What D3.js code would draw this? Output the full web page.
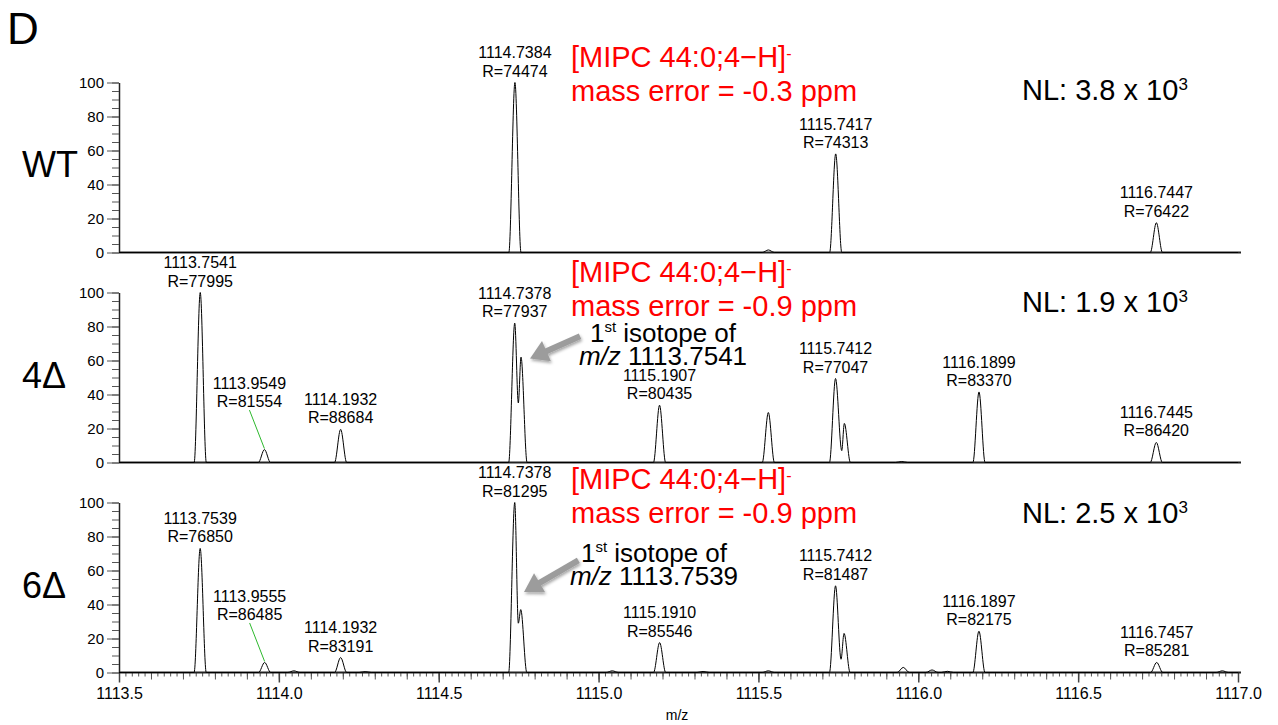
<!DOCTYPE html>
<html>
<head>
<meta charset="utf-8">
<script src="https://cdn.jsdelivr.net/npm/d3@7"></script>
<style>
  body { margin: 0; background: #fff; }
  svg { display: block; font-family: "Liberation Sans", Arial, Helvetica, sans-serif; }
</style>
</head>
<body>
<div class="chartArea"></div>
<script>
// axis ticks
const mzTicks = [1113.5, 1114.0, 1114.5, 1115.0, 1115.5, 1116.0, 1116.5, 1117.0];
const yTicks = [0, 20, 40, 60, 80, 100];

// one row per sample
const sampleNames = ["WT", "4Δ", "6Δ"];
const nlValues = ["3.8", "1.9", "2.5"];
const massErrors = ["-0.3", "-0.9", "-0.9"];
const isotopeOf = [null, "1113.7541", "1113.7539"];

// peak apex: [m/z, relative abundance %]
const peaksWT = [[1114.7384, 100], [1115.531, 1.5], [1115.7417, 58], [1116.7447, 17.5]];
const peaks4 = [
  [1113.7541, 100], [1113.9549, 7.6], [1114.1932, 19.5],
  [1114.7378, 82], [1114.7574, 62], [1115.1907, 33.7], [1115.531, 29.4],
  [1115.7412, 49.4], [1115.7687, 23], [1115.948, 0.6], [1116.1899, 41.5], [1116.7445, 11.8]
];
const peaks6 = [
  [1113.7539, 73], [1113.9555, 5.9], [1114.047, 1], [1114.1932, 8.8], [1114.27, 0.5],
  [1114.7378, 100], [1114.7566, 37], [1115.043, 1], [1115.1910, 17.6], [1115.327, 0.6],
  [1115.531, 1], [1115.7412, 51], [1115.7678, 23], [1115.953, 3], [1116.043, 1.5],
  [1116.091, 0.7], [1116.1897, 24.3], [1116.7457, 5.9], [1116.951, 1]
];

// dips between overlapping peaks
const valleysWT = [];
const valleys4 = [[1114.749, 35], [1115.7606, 7]];
const valleys6 = [[1114.749, 29], [1115.7584, 7.8]];

// peak labels: m/z, resolution
const labelsWT = [["1114.7384", "74474"], ["1115.7417", "74313"], ["1116.7447", "76422"]];
const labels4 = [
  ["1113.7541", "77995"], ["1113.9549", "81554"], ["1114.1932", "88684"], ["1114.7378", "77937"],
  ["1115.1907", "80435"], ["1115.7412", "77047"], ["1116.1899", "83370"], ["1116.7445", "86420"]
];
const labels6 = [
  ["1113.7539", "76850"], ["1113.9555", "86485"], ["1114.1932", "83191"], ["1114.7378", "81295"],
  ["1115.1910", "85546"], ["1115.7412", "81487"], ["1116.1897", "82175"], ["1116.7457", "85281"]
];

const allPeaks = [peaksWT, peaks4, peaks6];
const allValleys = [valleysWT, valleys4, valleys6];
const allLabels = [labelsWT, labels4, labels6];

const width = 1278;
const height = 725;
const panelTop = 82.5;
const panelH = 170;
const panelStep = 210;
const foot = 0.019;

const svg = d3.select(".chartArea")
  .append("svg")
  .attr("width", width)
  .attr("height", height);

const defs = svg.append("defs");
defs.append("filter").attr("id", "shadow")
  .attr("x", "-30%").attr("y", "-30%").attr("width", "160%").attr("height", "160%")
  .append("feDropShadow")
  .attr("dx", 1).attr("dy", 2).attr("stdDeviation", 1.5)
  .attr("flood-color", "#000").attr("flood-opacity", 0.35);

const x = d3.scaleLinear().domain([1113.5, 1117.0]).range([119, 1238]);

svg.append("text")
  .attr("x", 7).attr("y", 44)
  .attr("font-size", 44)
  .text("D");

// build the profile line through feet, apexes and valleys
function profile(peaks, valleys) {
  const pts = peaks.map(p => ({ mz: p[0], v: p[1], valley: false }))
    .concat(valleys.map(p => ({ mz: p[0], v: p[1], valley: true })))
    .sort((a, b) => a.mz - b.mz);
  const out = [[x.domain()[0], 0]];
  pts.forEach((p, i) => {
    if (p.valley) { out.push([p.mz, p.v]); return; }
    const prev = pts[i - 1], next = pts[i + 1];
    if (!prev || !prev.valley) out.push([p.mz - foot, 0]);
    out.push([p.mz, p.v]);
    if (!next || !next.valley) out.push([p.mz + foot, 0]);
  });
  out.push([x.domain()[1], 0]);
  return out;
}

// annotation layout per panel
const redLines = [[67, 101], [282, 316], [489, 523]];
const nlBase = [100, 312, 523];
const noteLayout = [null, { cx: 663, y1: 342, y2: 365 }, { cx: 654, y1: 562, y2: 585 }];
const arrowLayout = [null,
  { tail: [1114.942, 74.3], tip: [1114.7856, 61.2] },
  { tail: [1114.9367, 66], tip: [1114.7668, 47.4] }];

sampleNames.forEach((name, i) => {
  const top = panelTop + i * panelStep;
  const y = d3.scaleLinear().domain([0, 100]).range([top + panelH, top]);
  const g = svg.append("g");

  // sample name
  g.append("text")
    .attr("x", 22).attr("y", [177, 388, 598][i])
    .attr("font-size", 36)
    .text(name);

  // y axis
  const yAxis = d3.axisLeft(y).tickValues(yTicks).tickSize(12).tickPadding(3).tickSizeOuter(0);
  const ya = g.append("g").attr("transform", `translate(${x.range()[0]},0)`).call(yAxis);
  ya.selectAll("text").attr("font-size", 15).attr("fill", "#000").attr("font-family", null);
  ya.selectAll(".tick line").attr("stroke", "#555");
  ya.select(".domain").attr("stroke", "#222").attr("stroke-width", 1.5);
  g.append("g").attr("transform", `translate(${x.range()[0]},0)`)
    .call(d3.axisLeft(y).tickValues(d3.range(0, 101, 5)).tickSize(7).tickFormat(""))
    .call(s => s.select(".domain").remove())
    .selectAll("line").attr("stroke", "#555");

  // bottom axis only on the last panel
  if (i === sampleNames.length - 1) {
    const base = y(0);
    g.append("g").attr("transform", `translate(0,${base})`)
      .call(d3.axisBottom(x).tickValues(d3.range(1113.5, 1117.001, 0.02)).tickSize(4).tickFormat(""))
      .call(s => s.select(".domain").remove())
      .selectAll("line").attr("stroke", "#555");
    g.append("g").attr("transform", `translate(0,${base})`)
      .call(d3.axisBottom(x).tickValues(d3.range(1113.5, 1117.001, 0.1)).tickSize(7).tickFormat(""))
      .call(s => s.select(".domain").remove())
      .selectAll("line").attr("stroke", "#555");
    const xa = g.append("g").attr("transform", `translate(0,${base})`)
      .call(d3.axisBottom(x).tickValues(mzTicks).tickSize(10).tickPadding(5).tickFormat(d3.format(".1f")));
    xa.select(".domain").remove();
    xa.selectAll("text").attr("font-size", 16).attr("fill", "#000").attr("font-family", null);
    xa.selectAll(".tick line").attr("stroke", "#444").attr("stroke-width", 1.5);

    svg.append("text")
      .attr("x", 677).attr("y", 720)
      .attr("text-anchor", "middle")
      .attr("font-size", 14)
      .text("m/z");
  }

  // baseline
  g.append("line")
    .attr("x1", x.range()[0]).attr("x2", x.range()[1] + 3)
    .attr("y1", y(0)).attr("y2", y(0))
    .attr("stroke", "#222").attr("stroke-width", 2);

  // spectrum
  const line = d3.line()
    .x(d => x(d[0]))
    .y(d => y(d[1]))
    .curve(d3.curveMonotoneX);
  g.append("path")
    .datum(profile(allPeaks[i], allValleys[i]))
    .attr("fill", "none")
    .attr("stroke", "#000")
    .attr("stroke-width", 1)
    .attr("d", line);

  // peak labels
  allLabels[i].forEach(([mzText, res]) => {
    const mz = +mzText;
    const pk = allPeaks[i].reduce((a, b) => Math.abs(b[0] - mz) < Math.abs(a[0] - mz) ? b : a);
    const px = x(pk[0]), py = y(pk[1]);
    const leader = Math.abs(mz - 1113.955) < 0.005;
    const lx = leader ? px - 15 : px;
    const ly = leader ? py - 42.5 : py - 6;
    const t = g.append("text")
      .attr("text-anchor", "middle")
      .attr("font-size", 16);
    t.append("tspan").attr("x", lx).attr("y", ly - 18.4).text(mzText);
    t.append("tspan").attr("x", lx).attr("y", ly).text("R=" + res);
    if (leader) {
      g.append("line")
        .attr("x1", lx).attr("y1", ly + 3)
        .attr("x2", px).attr("y2", py - 1)
        .attr("stroke", "#2db82d").attr("stroke-width", 1);
    }
  });

  // identification text
  const red = g.append("text").attr("fill", "#ff0000").attr("font-size", 29);
  red.append("tspan").attr("x", 571).attr("y", redLines[i][0]).text("[MIPC 44:0;4−H]");
  red.append("tspan").attr("font-size", 16).attr("dy", -8).text("-");
  g.append("text").attr("fill", "#ff0000").attr("font-size", 29)
    .attr("x", 571).attr("y", redLines[i][1])
    .text(`mass error = ${massErrors[i]} ppm`);

  // normalisation level
  const nl = g.append("text").attr("font-size", 29).attr("x", 1022).attr("y", nlBase[i]);
  nl.append("tspan").text(`NL: ${nlValues[i]} x 10`);
  nl.append("tspan").attr("font-size", 17).attr("dy", -10).text("3");

  // isotope note with arrow
  if (isotopeOf[i]) {
    const L = noteLayout[i];
    const n1 = g.append("text").attr("text-anchor", "middle").attr("font-size", 26)
      .attr("x", L.cx).attr("y", L.y1);
    n1.append("tspan").text("1");
    n1.append("tspan").attr("font-size", 15).attr("dy", -10).text("st");
    n1.append("tspan").attr("dy", 10).text(" isotope of");
    const n2 = g.append("text").attr("text-anchor", "middle").attr("font-size", 26)
      .attr("x", L.cx).attr("y", L.y2);
    n2.append("tspan").attr("font-style", "italic").text("m/z");
    n2.append("tspan").text(" " + isotopeOf[i]);

    const A = arrowLayout[i];
    const tx = x(A.tail[0]), ty = y(A.tail[1]);
    const hx = x(A.tip[0]), hy = y(A.tip[1]);
    const ang = Math.atan2(hy - ty, hx - tx);
    const headLen = 18, headW = 11;
    const bx = hx - headLen * Math.cos(ang), by = hy - headLen * Math.sin(ang);
    const nx = -Math.sin(ang), ny = Math.cos(ang);
    const ag = g.append("g").attr("filter", "url(#shadow)");
    ag.append("line")
      .attr("x1", tx).attr("y1", ty).attr("x2", bx + 2 * Math.cos(ang)).attr("y2", by + 2 * Math.sin(ang))
      .attr("stroke", "#9c9c9c").attr("stroke-width", 6);
    ag.append("path")
      .attr("d", `M${hx},${hy}L${bx + nx * headW},${by + ny * headW}L${bx - nx * headW},${by - ny * headW}Z`)
      .attr("fill", "#9c9c9c");
  }
});
</script>
</body>
</html>
